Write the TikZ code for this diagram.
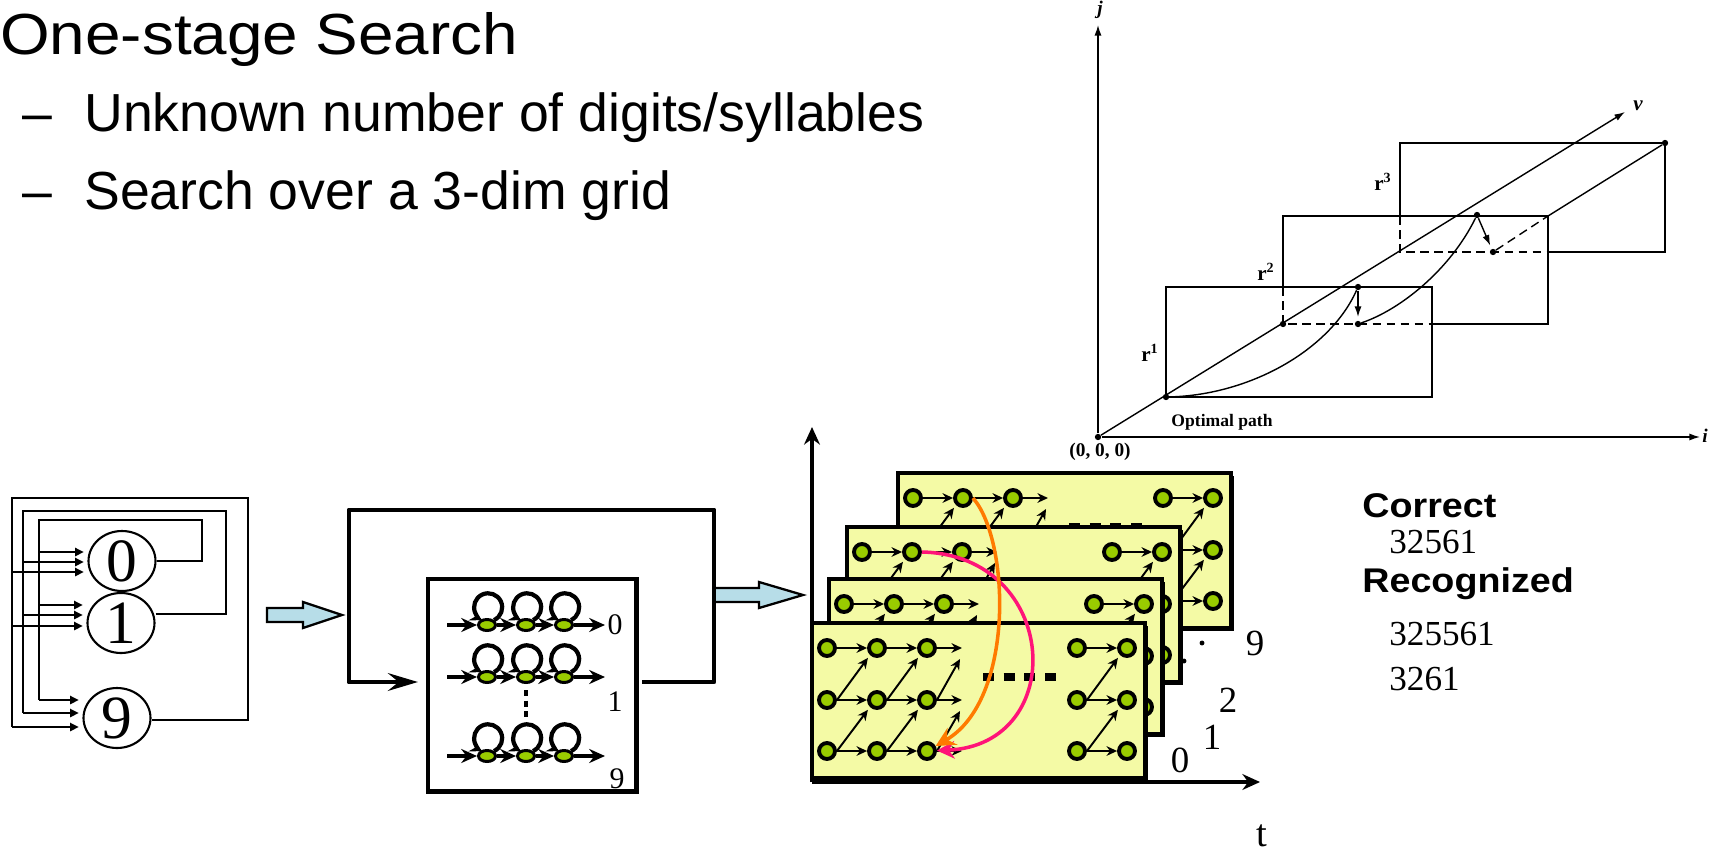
\documentclass[tikz,border=0pt]{standalone}
\usepackage{fontspec}
\setmainfont{Liberation Serif}
\newfontfamily\slidefont{Liberation Sans}
\newfontfamily\titlefont[FakeStretch=1.1]{Liberation Sans}
\usetikzlibrary{arrows.meta,shapes.geometric}

\definecolor{panelyellow}{RGB}{244,250,165}
\definecolor{stategreen}{RGB}{153,204,0}
\definecolor{flowblue}{RGB}{183,221,232}
\definecolor{pathorange}{RGB}{255,122,0}
\definecolor{pathpink}{RGB}{255,20,120}

\begin{document}
\begin{tikzpicture}[x=0.02cm, y=-0.02cm,
    digit/.style = {draw, ellipse, line width=1.2pt, minimum width=1.34cm, minimum height=1.2cm, inner sep=0pt, font=\fontsize{35}{35}\selectfont},
    wire/.style = {line width=1.5pt},
    feed/.style = {wire, shorten >=2pt, -{Triangle[length=5pt,width=4.5pt]}},
    flow/.style = {draw, line width=1.3pt, fill=flowblue},
    bigloop/.style = {line width=2.8pt, line join=round, -{Stealth[length=17pt,width=10pt,inset=6pt]}},
    state/.style = {draw, ellipse, line width=1.7pt, fill=stategreen, minimum width=0.34cm, minimum height=0.22cm, inner sep=0pt},
    hop/.style = {line width=2.2pt, -{Stealth[length=9pt,width=8pt,inset=3pt]}},
    selfloop/.style = {line width=2.4pt, -{Stealth[length=7pt,width=7pt,inset=2.5pt]}},
    tag/.style = {inner sep=0pt, font=\fontsize{17}{17}\selectfont},
    panel/.style = {draw, line width=2.8pt, fill=panelyellow},
    cell/.style = {draw, circle, line width=2.2pt, fill=stategreen, minimum size=0.32cm, inner sep=0pt},
    gridarrow/.style = {line width=1.1pt, -{Stealth[length=6pt,width=5.5pt]}},
    gap/.style = {line width=4.5pt, dash pattern=on 6.2pt off 5.6pt},
    tline/.style = {line width=2.3pt, -{Stealth[length=10pt,width=9pt]}},
    lab/.style = {inner sep=0pt, font=\fontsize{21}{21}\selectfont},
    scan/.style = {line width=0.8pt},
    scanarrow/.style = {scan, -{Latex[length=6pt,width=4pt]}},
    dot/.style = {circle, fill, inner sep=0pt, minimum size=3.6pt},
    book/.style = {inner sep=0pt, font=\bfseries\fontsize{10}{10}\selectfont},
    slide/.style = {anchor=base west, inner sep=0pt}]

\useasboundingbox (0,0) rectangle (1710,848);

% text
\node[slide, font=\titlefont\fontsize{33}{33}\selectfont] (title) at (0,55) {One-stage Search};
\node[slide, font=\slidefont\fontsize{30.5}{30.5}\selectfont] (dash1) at (22,132) {–};
\node[slide, font=\slidefont\fontsize{30.5}{30.5}\selectfont] (item1) at (84,132) {Unknown number of digits/syllables};
\node[slide, font=\slidefont\fontsize{30.5}{30.5}\selectfont] (dash2) at (22,209) {–};
\node[slide, font=\slidefont\fontsize{30.5}{30.5}\selectfont] (item2) at (84,209) {Search over a 3-dim grid};

\node[slide, font=\titlefont\bfseries\fontsize{19.5}{19.5}\selectfont] (correct) at (1362,517) {Correct};
\node[slide, font=\fontsize{20}{20}\selectfont] (truth) at (1389,553) {32561};
\node[slide, font=\titlefont\bfseries\fontsize{19.5}{19.5}\selectfont] (recog) at (1362,592) {Recognized};
\node[slide, font=\fontsize{20}{20}\selectfont] (hypa) at (1389,645) {325561};
\node[slide, font=\fontsize{20}{20}\selectfont] (hypb) at (1389,690) {3261};

% digit loop
\node[digit] (d0) at (122,561) {0};
\node[digit] (d1) at (121,623) {1};
\node[digit] (d9) at (117,718) {9};

\draw[wire] (d0.east) -- (202,561) -- (202,520) -- (39,520) -- (39,700);
\draw[wire] (d1.east |- 0,614) -- (226,614) -- (226,511) -- (23,511) -- (23,713);
\draw[wire] (d9.east |- 0,720) -- (248,720) -- (248,498) -- (12,498) -- (12,727);
\foreach \y/\tgt in {552/d0, 605/d1, 700/d9} \draw[feed] (39,\y) -- (39,\y -| \tgt.west);
\foreach \y/\tgt in {562/d0, 615/d1, 713/d9} \draw[feed] (23,\y) -- (23,\y -| \tgt.west);
\foreach \y/\tgt in {572/d0, 626/d1, 727/d9} \draw[feed] (12,\y) -- (12,\y -| \tgt.west);

\draw[flow] (267,608) -- (303,608) -- (303,602) -- (342,615) -- (303,628) -- (303,622) -- (267,622) -- cycle;

% word models
\node[draw, line width=2.3pt, minimum width=4.18cm, minimum height=4.26cm, inner sep=0pt] (hmm) at (532,685) {};
\foreach \row/\y in {a/625, b/677, c/756} {
    \coordinate (\row0) at (447,\y);
    \coordinate (\row4) at (605,\y);
    \node[state] (\row1) at (487,\y) {};
    \node[state] (\row2) at (526,\y) {};
    \node[state] (\row3) at (564,\y) {};
    \draw[hop] (\row0) -- (\row1);
    \draw[hop] (\row1) -- (\row2);
    \draw[hop] (\row2) -- (\row3);
    \draw[hop] (\row3) -- (\row4);
    \foreach \s in {1,2,3}
        \draw[selfloop] (\row\s.north east) arc[start angle=-65, end angle=245, radius=8pt];
}
\draw[line width=2.3pt, dash pattern=on 3.5pt off 2.5pt] (526,690) -- (526,721);
\node[tag] (ta) at (615,625) {0};
\node[tag] (tb) at (615,702) {1};
\node[tag] (tc) at (617,779) {9};

\draw[flow] (714,588) -- (759,588) -- (759,582) -- (803,595) -- (759,608) -- (759,602) -- (714,602) -- cycle;
\coordinate (loopout) at (642,682);
\coordinate (loopin) at (418,682);
\draw[bigloop] (loopout) -- (714,682) -- (714,510) -- (349,510) -- (349,682) -- (loopin);

% search grid
\coordinate (t0) at (812,782);
\draw[tline] (t0) -- (812,427);
\draw[tline] (t0) -- (1260,782);

\foreach \p/\px/\py in {4/898/473, 3/847/527, 2/829/579, 1/812/623} {
    \fill (\px+3,\py+3) rectangle ++(333,155);
    \draw[panel] (\px,\py) rectangle ++(333,155);
    \foreach \col/\dx in {0/15, 1/65, 2/115, 3/265, 4/315}
        \foreach \row/\dy in {0/25, 1/77, 2/128}
            \node[cell] (g\p\col\row) at (\px+\dx,\py+\dy) {};
    \foreach \col/\nxt in {0/1, 1/2, 3/4} {
        \foreach \row in {0,1,2}
            \draw[gridarrow] (g\p\col\row) -- (g\p\nxt\row);
        \foreach \row/\up in {1/0, 2/1}
            \draw[gridarrow, shorten >=2pt] (g\p\col\row.east) -- (g\p\nxt\up.south west);
    }
    \foreach \row/\dy in {0/25, 1/77, 2/128}
        \draw[gridarrow] (g\p2\row) -- (\px+150,\py+\dy);
    \foreach \row/\dy in {1/36, 2/88}
        \draw[gridarrow] (g\p2\row.east) -- (\px+148,\py+\dy);
    \draw[gap] (\px+171,\py+54) -- (\px+245,\py+54);
}

\draw[pathpink, line width=2pt, -{Stealth[length=10pt,width=10pt]}] (g310.east) .. controls (1060,555) and (1070,745) .. (g122);
\draw[pathorange, line width=2pt, -{Stealth[length=11pt,width=11pt]}] (g410.east) .. controls (1010,540) and (1015,700) .. (g122);

\node[lab] (k9) at (1255,643) {9};
\node[lab] (k2) at (1228,700) {2};
\node[lab] (k1) at (1212,737) {1};
\node[lab] (k0) at (1180,760) {0};
\node[lab, font=\fontsize{22}{22}\selectfont, anchor=base] (tlab) at (1262,846) {t};
\node[dot, minimum size=2.8pt] (m1) at (1184,661) {};
\node[dot, minimum size=2.8pt] (m2) at (1202,643) {};

% level building sketch
\node[dot] (o) at (1098,437) {};
\draw[scanarrow] (o) -- (1098,25);
\draw[scanarrow] (o) -- (1700,437);
\draw[scanarrow] (o) -- (1625,112);
\node[book, font=\bfseries\itshape\fontsize{11}{11}\selectfont] (jlab) at (1100,10) {j};
\node[book, font=\bfseries\itshape\fontsize{11}{11}\selectfont] (ilab) at (1705,436) {i};
\node[book, font=\bfseries\itshape\fontsize{12}{12}\selectfont] (vlab) at (1638,106) {v};

\draw[scan] (1166,287) rectangle (1432,397);
\draw[scan] (1432,324) -- (1548,324) -- (1548,216) -- (1283,216) -- (1283,287);
\draw[scan, dash pattern=on 5pt off 3pt] (1283,287) -- (1283,324) -- (1432,324);
\draw[scan] (1548,252) -- (1665,252) -- (1665,143) -- (1400,143) -- (1400,216);
\draw[scan, dash pattern=on 5pt off 3pt] (1400,216) -- (1400,252) -- (1548,252);

\node[dot] (a1) at (1166,397) {};
\node[dot] (a2) at (1283,324) {};
\node[dot] (b1) at (1358,287) {};
\node[dot] (b2) at (1358,324) {};
\node[dot] (c1) at (1477,215) {};
\node[dot] (c2) at (1493,252) {};
\node[dot] (e1) at (1665,143) {};
\coordinate (f1) at (1548,216);
\draw[scan, dash pattern=on 5pt off 3pt] (c2) -- (f1);
\draw[scan] (f1) -- (e1);

\draw[scan] (a1) .. controls (1250,395) and (1330,350) .. (b1);
\draw[scanarrow, shorten >=2pt] (b1) -- (b2);
\draw[scan] (b2) .. controls (1400,310) and (1450,270) .. (c1);
\draw[scanarrow, shorten >=2pt] (c1) -- (c2);

\node[book, font=\bfseries\fontsize{12}{12}\selectfont] (r1) at (1150,353) {r\textsuperscript{1}};
\node[book, font=\bfseries\fontsize{12}{12}\selectfont] (r2) at (1266,272) {r\textsuperscript{2}};
\node[book, font=\bfseries\fontsize{12}{12}\selectfont] (r3) at (1383,182) {r\textsuperscript{3}};
\node[book] (optlab) at (1222,422) {Optimal path};
\node[book, font=\bfseries\fontsize{11}{11}\selectfont] (olab) at (1100,452) {(0, 0, 0)};

\end{tikzpicture}
\end{document}
